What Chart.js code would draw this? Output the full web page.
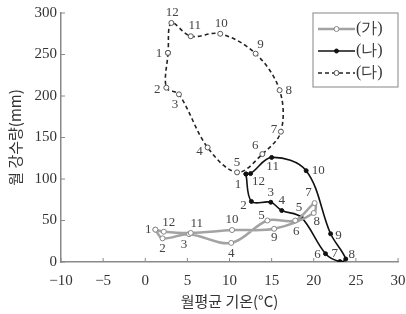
<!DOCTYPE html>
<html>
<head>
<meta charset="utf-8">
<script src="https://cdn.jsdelivr.net/npm/chart.js@4"></script>
<style>
body { margin: 0; background: #fff; }
#wrap { width: 406px; height: 314px; }
</style>
</head>
<body>
<div id="wrap"><canvas id="chart"></canvas></div>
<script>
// month numbers, mean temp (°C) and precipitation (mm)
const months = [1, 2, 3, 4, 5, 6, 7, 8, 9, 10, 11, 12];
const gaTemp = [1.2, 2.05, 5.2, 10.2, 14.5, 17.8, 20.1, 20.0, 15.3, 10.3, 5.4, 2.2];
const gaRain = [39, 28.5, 33.5, 23, 50, 50, 71, 59, 40, 38.5, 35, 36.5];
const naTemp = [11.95, 12.6, 14.9, 16.2, 18.5, 21.4, 23.1, 23.8, 22.0, 19.1, 15.0, 12.5];
const naRain = [106, 73, 72, 62, 54, 10, 0.5, 3.6, 34, 110, 126, 106.5];
const daTemp = [2.7, 2.5, 4.0, 7.4, 10.9, 13.9, 16.1, 15.95, 13.1, 8.9, 5.4, 3.1];
const daRain = [252, 210, 202, 138, 108, 130, 157, 207, 251, 275, 272, 288];
const xTicks = [-10, -5, 0, 5, 10, 15, 20, 25, 30];
const yTicks = [0, 50, 100, 150, 200, 250, 300];

// where each month number sits relative to its point (px)
const gaLabelOff = [[-7,0],[0,10],[-5,10],[0,11],[-6,-5],[1,11],[-6,-10],[3,9],[0,9],[0,-10],[6,-9],[5,-9]];
const naLabelOff = [[-8,11],[-8,4],[0,-10],[0,-10],[-2,-10],[-8,1],[-5,-8],[6,-4],[8,2],[12,0],[1,9],[8,8]];
const daLabelOff = [[-9,1],[-9,2],[-4,10],[-8,4],[0,-10],[-7,-9],[-7,-2],[9,0],[5,-9],[1,-10],[4,-11],[1,-10]];

function loop(t, r) {
	let pts = t.map((v, i) => ({x: v, y: r[i]}));
	pts.push(pts[0]);
	return pts;
}

const AXIS = '#8a8a8a';
const TEXT = '#333';
const SERIF = '"Liberation Serif", "DejaVu Serif", serif';
const KOREAN = '"Noto Sans CJK KR", sans-serif';

const monthLabels = {
	id: 'monthLabels',
	afterDatasetsDraw(chart) {
		const ctx = chart.ctx;
		ctx.save();
		ctx.font = '13px ' + SERIF;
		ctx.fillStyle = '#444';
		ctx.textAlign = 'center';
		ctx.textBaseline = 'middle';
		chart.data.datasets.forEach((ds, di) => {
			const meta = chart.getDatasetMeta(di);
			months.forEach((m, i) => {
				const el = meta.data[i];
				const off = ds.labelOff[i];
				ctx.fillText(String(m), el.x + off[0], el.y + off[1]);
			});
		});
		ctx.restore();
	}
};

// small tick marks pointing into the plot
const innerTicks = {
	id: 'innerTicks',
	afterDraw(chart) {
		const ctx = chart.ctx;
		const x = chart.scales.x, y = chart.scales.y;
		ctx.save();
		ctx.strokeStyle = AXIS;
		ctx.lineWidth = 1;
		ctx.beginPath();
		xTicks.forEach(v => {
			const px = x.getPixelForValue(v);
			ctx.moveTo(px, y.bottom);
			ctx.lineTo(px, y.bottom - 4);
		});
		yTicks.forEach(v => {
			const py = y.getPixelForValue(v);
			ctx.moveTo(x.left, py);
			ctx.lineTo(x.left + 4, py);
		});
		ctx.stroke();
		ctx.restore();
	}
};

// boxed legend in the top right corner
const boxLegend = {
	id: 'boxLegend',
	afterDraw(chart) {
		const ctx = chart.ctx;
		const right = chart.chartArea.right, top = chart.chartArea.top;
		const w = 85, h = 74, left = right - w;
		ctx.save();
		ctx.fillStyle = '#fff';
		ctx.fillRect(left, top, w, h);
		ctx.strokeStyle = '#999';
		ctx.lineWidth = 1.2;
		ctx.strokeRect(left, top, w, h);
		ctx.font = '16px ' + SERIF;
		ctx.textBaseline = 'middle';
		chart.data.datasets.forEach((ds, i) => {
			const yy = top + 16 + i * 22;
			const x0 = left + 5, x1 = left + 42, xm = (x0 + x1) / 2;
			ctx.strokeStyle = ds.borderColor;
			ctx.lineWidth = ds.borderWidth;
			ctx.setLineDash(ds.borderDash || []);
			ctx.beginPath();
			ctx.moveTo(x0, yy);
			ctx.lineTo(x1, yy);
			ctx.stroke();
			ctx.setLineDash([]);
			ctx.beginPath();
			ctx.arc(xm, yy, ds.pointRadius, 0, Math.PI * 2);
			ctx.fillStyle = ds.pointBackgroundColor;
			ctx.fill();
			ctx.lineWidth = ds.pointBorderWidth;
			ctx.strokeStyle = ds.pointBorderColor;
			ctx.stroke();
			ctx.fillStyle = TEXT;
			ctx.fillText(ds.label, x1 + 1, yy);
		});
		ctx.restore();
	}
};

new Chart(document.getElementById('chart'), {
	type: 'scatter',
	data: {
		datasets: [
			{
				label: '(가)', data: loop(gaTemp, gaRain), labelOff: gaLabelOff,
				showLine: true, tension: 0.35,
				borderColor: '#a3a3a3', borderWidth: 2.5,
				pointRadius: 2.5, pointBorderWidth: 1, pointBackgroundColor: '#fff', pointBorderColor: '#888'
			},
			{
				label: '(나)', data: loop(naTemp, naRain), labelOff: naLabelOff,
				showLine: true, tension: 0.35,
				borderColor: '#111', borderWidth: 1.6,
				pointRadius: 2, pointBorderWidth: 1, pointBackgroundColor: '#111', pointBorderColor: '#111'
			},
			{
				label: '(다)', data: loop(daTemp, daRain), labelOff: daLabelOff,
				showLine: true, tension: 0.35,
				borderColor: '#222', borderWidth: 1.6, borderDash: [4, 3],
				pointRadius: 2.5, pointBorderWidth: 1, pointBackgroundColor: '#fff', pointBorderColor: '#555'
			}
		]
	},
	options: {
		responsive: true,
		maintainAspectRatio: false,
		animation: false,
		layout: { padding: { top: 13, right: 8 } },
		plugins: { legend: { display: false }, tooltip: { enabled: false } },
		scales: {
			x: {
				type: 'linear', min: -10, max: 30,
				afterBuildTicks: s => { s.ticks = xTicks.map(v => ({value: v})); },
				afterFit: s => { s.height = 52; s.paddingLeft = 0; s.paddingRight = 0; },
				grid: { drawOnChartArea: false, drawTicks: false },
				border: { color: AXIS, width: 1.5 },
				ticks: { color: TEXT, padding: 10, font: { family: SERIF, size: 15 },
					callback: v => String(v).replace('-', '\u2212') },
				title: { display: true, text: '월평균 기온(°C)', color: TEXT, padding: { top: 3, bottom: 4 },
					font: { family: KOREAN, size: 15 } }
			},
			y: {
				type: 'linear', min: 0, max: 300,
				afterBuildTicks: s => { s.ticks = yTicks.map(v => ({value: v})); },
				afterFit: s => { s.width = 61; },
				grid: { drawOnChartArea: false, drawTicks: false },
				border: { color: AXIS, width: 1.5 },
				ticks: { color: TEXT, padding: 4, font: { family: SERIF, size: 15 } },
				title: { display: true, text: '월 강수량(mm)', color: TEXT, padding: { top: 6, bottom: 0 },
					font: { family: KOREAN, size: 15 } }
			}
		}
	},
	plugins: [monthLabels, innerTicks, boxLegend]
});
</script>
</body>
</html>
